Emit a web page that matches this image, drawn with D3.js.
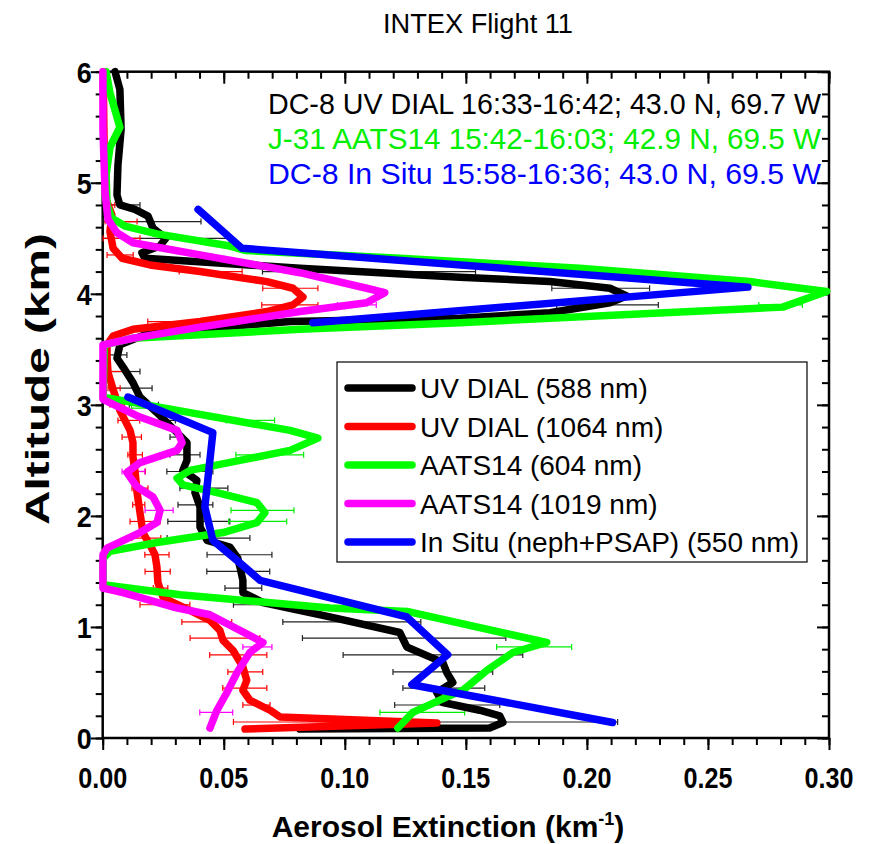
<!DOCTYPE html>
<html><head><meta charset="utf-8">
<script src="https://cdn.jsdelivr.net/npm/d3@7/dist/d3.min.js"></script>
<style>body{margin:0;background:#fff}svg{display:block}</style>
</head><body>
<svg id="chart" width="872" height="844"></svg>
<script>
// ---------- data (extinction km^-1 vs altitude km) ----------
const dial588Alt = [6.00,5.84,5.48,5.16,4.89,4.80,4.76,4.70,4.59,4.50,4.43,4.37,4.32,4.23,4.15,4.11,4.05,3.98,3.92,3.83,3.78,3.75,3.65,3.54,3.42,3.34,3.20,3.07,2.93,2.75,2.66,2.50,2.41,2.32,2.21,2.08,1.90,1.78,1.72,1.62,1.54,1.42,1.31,1.22,1.09,0.95,0.82,0.73,0.68,0.59,0.50,0.41,0.32,0.25,0.20,0.14,0.09,0.08];
const dial588Ext = [0.0051,0.0071,0.0076,0.0063,0.0059,0.0071,0.0133,0.0187,0.0208,0.0261,0.0236,0.0162,0.0174,0.0815,0.1475,0.1847,0.2095,0.2164,0.2095,0.1847,0.1475,0.0774,0.0195,0.0071,0.0059,0.0084,0.0125,0.0154,0.0224,0.0307,0.0348,0.0348,0.0331,0.0389,0.0381,0.0402,0.0402,0.0431,0.0525,0.0558,0.0567,0.0579,0.0579,0.0662,0.0938,0.1227,0.1256,0.1351,0.1405,0.1421,0.1446,0.1380,0.1405,0.1557,0.1640,0.1653,0.1598,0.0815];

const dial1064Alt = [6.00,5.30,4.85,4.71,4.56,4.41,4.32,4.26,4.20,4.11,4.05,3.97,3.90,3.84,3.75,3.68,3.62,3.54,3.43,3.29,3.14,2.95,2.77,2.66,2.53,2.39,2.21,2.03,1.85,1.74,1.65,1.54,1.40,1.27,1.22,1.15,1.06,0.97,0.88,0.79,0.64,0.52,0.43,0.34,0.25,0.19,0.135,0.08];
const dial1064Ext = [0.0002,0.0006,0.0014,0.0038,0.0030,0.0043,0.0080,0.0195,0.0402,0.0678,0.0786,0.0827,0.0786,0.0678,0.0402,0.0125,0.0043,0.0018,0.0018,0.0022,0.0043,0.0071,0.0113,0.0125,0.0125,0.0134,0.0142,0.0154,0.0166,0.0195,0.0216,0.0224,0.0228,0.0249,0.0290,0.0360,0.0443,0.0484,0.0497,0.0538,0.0579,0.0595,0.0579,0.0608,0.0691,0.0732,0.1380,0.0588];

const aats604Alt = [6.00,5.81,5.50,5.32,5.07,4.80,4.68,4.61,4.54,4.43,4.39,4.32,4.23,4.11,4.02,3.88,3.78,3.74,3.68,3.60,3.54,3.07,2.93,2.77,2.70,2.59,2.50,2.41,2.34,2.28,2.21,2.12,2.03,1.94,1.85,1.76,1.68,1.62,1.38,1.29,1.17,1.14,0.86,0.77,0.61,0.43,0.37,0.23,0.09];
const aats604Ext = [0.0014,0.0030,0.0071,0.0030,0.0014,0.0018,0.0038,0.0092,0.0224,0.0526,0.0588,0.1227,0.1970,0.2672,0.2990,0.2809,0.1847,0.1475,0.0815,0.0125,0.0006,0.0002,0.0361,0.0774,0.0889,0.0774,0.0567,0.0361,0.0307,0.0331,0.0472,0.0637,0.0670,0.0637,0.0497,0.0224,0.0030,0.0002,0.0002,0.0320,0.0939,0.1257,0.1834,0.1694,0.1587,0.1488,0.1422,0.1281,0.1219];

const aats1019Alt = [6.00,5.48,4.91,4.67,4.55,4.46,4.35,4.19,4.05,4.01,3.92,3.84,3.70,3.60,3.54,3.05,2.89,2.77,2.66,2.59,2.48,2.39,2.26,2.17,2.05,1.94,1.85,1.71,1.65,1.35,1.31,1.18,1.11,0.86,0.77,0.59,0.41,0.25,0.09];
const aats1019Ext = [0.0001,0.0001,0.0010,0.0022,0.0059,0.0125,0.0402,0.0815,0.1090,0.1165,0.1090,0.0815,0.0402,0.0125,0.0001,0.0001,0.0154,0.0307,0.0328,0.0307,0.0154,0.0100,0.0142,0.0208,0.0237,0.0224,0.0154,0.0018,0.0001,0.0001,0.0084,0.0290,0.0443,0.0662,0.0608,0.0555,0.0513,0.0472,0.0443];

// null marks a break in the in-situ profile
const inSituAlt = [4.76,4.41,4.06,3.74,null,3.07,2.75,2.08,1.78,1.63,1.42,1.09,0.75,0.48,0.14];
const inSituExt = [0.0394,0.0575,0.2665,0.0868,null,0.0104,0.0455,0.0422,0.0455,0.0538,0.0650,0.1256,0.1425,0.1277,0.2106];

// error bars: altitude, centre, half-width
const dial588ErrAlt = [4.80,4.65,4.50,4.20,4.05,3.90,3.45,3.30,3.15,3.00,2.86,2.71,2.55,2.40,2.25,2.10,1.95,1.80,1.65,1.50,1.35,1.20,1.045,0.90,0.748,0.595,0.45,0.297,0.144];
const dial588ErrCen = [0.0080,0.0200,0.0260,0.1100,0.2057,0.2085,0.0060,0.0092,0.0117,0.0170,0.0250,0.0298,0.0340,0.0360,0.0418,0.0383,0.0397,0.0437,0.0565,0.0560,0.0581,0.0660,0.1029,0.1245,0.1364,0.1405,0.1409,0.1423,0.1640];
const dial588ErrHalf = [0.0074,0.0206,0.0260,0.0440,0.0202,0.0210,0.0040,0.0062,0.0087,0.0060,0.0050,0.0020,0.0062,0.0095,0.0099,0.0072,0.0128,0.0171,0.0134,0.0130,0.0076,0.0120,0.0285,0.0420,0.0371,0.0206,0.0169,0.0217,0.0487];

const dial1064ErrAlt = [4.80,4.65,4.50,4.35,4.20,4.05,3.90,3.75,3.60,3.30,3.15,3.00,2.86,2.71,2.55,2.40,2.25,2.10,1.95,1.80,1.65,1.50,1.35,1.20,1.045,0.90,0.748,0.595,0.45,0.297,0.144];
const dial1064ErrCen = [0.0030,0.0076,0.0078,0.0072,0.0446,0.0775,0.0773,0.0454,0.0080,0.0049,0.0047,0.0060,0.0108,0.0120,0.0134,0.0136,0.0154,0.0149,0.0175,0.0180,0.0224,0.0227,0.0239,0.0257,0.0430,0.0505,0.0560,0.0589,0.0587,0.0635,0.0850];
const dial1064ErrHalf = [0.0020,0.0066,0.0076,0.0054,0.0130,0.0114,0.0116,0.0268,0.0040,0.0050,0.0025,0.0030,0.0045,0.0040,0.0030,0.0040,0.0033,0.0025,0.0062,0.0060,0.0050,0.0052,0.0030,0.0103,0.0103,0.0144,0.0118,0.0072,0.0091,0.0056,0.0310];

const aats604ErrAlt = [3.90,2.97,2.86,2.55,2.05,1.95,0.82,0.23];
const aats604ErrCen = [0.2800,0.0166,0.0610,0.0690,0.0660,0.0640,0.1782,0.1320];
const aats604ErrHalf = [0.0090,0.0047,0.0100,0.0140,0.0130,0.0120,0.0155,0.0175];

const aats1019ErrAlt = [3.90,2.40,2.05,0.82,0.23];
const aats1019ErrCen = [0.1050,0.0127,0.0233,0.0639,0.0469];
const aats1019ErrHalf = [0.0080,0.0047,0.0058,0.0060,0.0068];

const xTicks = [0, 0.05, 0.10, 0.15, 0.20, 0.25, 0.30];
const xTickLabels = ["0.00","0.05","0.10","0.15","0.20","0.25","0.30"];
const yTicks = [0,1,2,3,4,5,6];
const yTickLabels = ["0","1","2","3","4","5","6"];

const legendLabels = ["UV DIAL (588 nm)","UV DIAL (1064 nm)","AATS14 (604 nm)","AATS14 (1019 nm)","In Situ (neph+PSAP) (550 nm)"];
const seriesColors = ["#000000","#ff0000","#00ff00","#ff00ff","#0000ff"];
const noteLines = ["DC-8 UV DIAL 16:33-16:42; 43.0 N, 69.7 W","J-31 AATS14 15:42-16:03; 42.9 N, 69.5 W","DC-8 In Situ 15:58-16:36; 43.0 N, 69.5 W"];
const noteColors = ["#000000","#00ee00","#0000ff"];

// ---------- drawing ----------
const svg = d3.select("#chart");
const FONT = "'Liberation Sans', Arial, sans-serif";
const L = 102.7, R = 829, T = 71.7, B = 738;
const x = d3.scaleLinear().domain([0,0.30]).range([L,R]);
const y = d3.scaleLinear().domain([0,6]).range([B,T]);

// axes
const minorX = d3.range(0,0.3001,0.01);
const minorY = d3.range(0,6.001,0.2);
function styleAxis(g){ g.select(".domain").remove(); g.selectAll("line").attr("stroke","#000").attr("stroke-width",2); }
svg.append("g").attr("transform",`translate(0,${B})`).call(d3.axisBottom(x).tickValues(minorX).tickSize(7).tickFormat("")).call(styleAxis);
svg.append("g").attr("transform",`translate(0,${B})`).call(d3.axisBottom(x).tickValues(xTicks).tickSize(12).tickFormat("")).call(styleAxis);
svg.append("g").attr("transform",`translate(0,${T})`).call(d3.axisBottom(x).tickValues(minorX).tickSize(7).tickFormat("")).call(styleAxis);
svg.append("g").attr("transform",`translate(0,${T})`).call(d3.axisBottom(x).tickValues(xTicks).tickSize(12).tickFormat("")).call(styleAxis);
svg.append("g").attr("transform",`translate(${L},0)`).call(d3.axisLeft(y).tickValues(minorY).tickSize(7).tickFormat("")).call(styleAxis);
svg.append("g").attr("transform",`translate(${L},0)`).call(d3.axisLeft(y).tickValues(yTicks).tickSize(12).tickFormat("")).call(styleAxis);
svg.append("g").attr("transform",`translate(${R},0)`).call(d3.axisLeft(y).tickValues(minorY).tickSize(7).tickFormat("")).call(styleAxis);
svg.append("g").attr("transform",`translate(${R},0)`).call(d3.axisLeft(y).tickValues(yTicks).tickSize(12).tickFormat("")).call(styleAxis);
svg.append("rect").attr("x",L).attr("y",T).attr("width",R-L).attr("height",B-T)
  .attr("fill","none").attr("stroke","#000").attr("stroke-width",2.5);

// tick labels
svg.append("g").selectAll("text").data(xTicks).join("text")
  .attr("x",d=>x(d)).attr("y",B+50).attr("text-anchor","middle")
  .attr("font-family",FONT).attr("font-weight","bold").attr("font-size",30)
  .attr("textLength",49).attr("lengthAdjust","spacingAndGlyphs")
  .text((d,i)=>xTickLabels[i]);
svg.append("g").selectAll("text").data(yTicks).join("text")
  .attr("x",L-11).attr("y",d=>y(d)+11).attr("text-anchor","end")
  .attr("font-family",FONT).attr("font-weight","bold").attr("font-size",30)
  .attr("textLength",15).attr("lengthAdjust","spacingAndGlyphs")
  .text((d,i)=>yTickLabels[i]);

// axis titles
const xt = svg.append("text").attr("x",448).attr("y",837).attr("text-anchor","middle")
  .attr("font-family",FONT).attr("font-weight","bold").attr("font-size",30);
xt.append("tspan").text("Aerosol Extinction (km");
xt.append("tspan").attr("dy",-12).attr("font-size",18).text("-1");
xt.append("tspan").attr("dy",12).text(")");
svg.append("text").attr("transform","translate(49,379) rotate(-90)").attr("text-anchor","middle")
  .attr("font-family",FONT).attr("font-weight","bold").attr("font-size",34)
  .attr("textLength",292).attr("lengthAdjust","spacingAndGlyphs").text("Altitude (km)");

// title
svg.append("text").attr("x",478).attr("y",33).attr("text-anchor","middle")
  .attr("font-family",FONT).attr("font-size",27)
  .attr("textLength",190).attr("lengthAdjust","spacingAndGlyphs").text("INTEX Flight 11");

// error bars
const errSets = [
  [dial588ErrAlt,dial588ErrCen,dial588ErrHalf,"#222"],
  [dial1064ErrAlt,dial1064ErrCen,dial1064ErrHalf,"#ff0000"],
  [aats604ErrAlt,aats604ErrCen,aats604ErrHalf,"#00ee00"],
  [aats1019ErrAlt,aats1019ErrCen,aats1019ErrHalf,"#ff00ff"]
];
const eg = svg.append("g");
errSets.forEach(([alt,cen,half,col])=>{
  alt.forEach((a,i)=>{
    const x0 = Math.max(L, x(cen[i]-half[i])), x1 = x(cen[i]+half[i]), yy = y(a);
    eg.append("line").attr("x1",x0).attr("x2",x1).attr("y1",yy).attr("y2",yy).attr("stroke",col).attr("stroke-width",1.2);
    [x0,x1].forEach(xx=>eg.append("line").attr("x1",xx).attr("x2",xx).attr("y1",yy-3).attr("y2",yy+3).attr("stroke",col).attr("stroke-width",1.2));
  });
});

// profiles
const series = [
  [dial588Ext,dial588Alt],
  [dial1064Ext,dial1064Alt],
  [aats604Ext,aats604Alt],
  [aats1019Ext,aats1019Alt],
  [inSituExt,inSituAlt]
];
const line = d3.line().defined(d=>d[0]!==null && d[1]!==null).x(d=>x(d[0])).y(d=>y(d[1]));
series.forEach(([ext,alt],k)=>{
  const pts = ext.map((e,i)=>[e,alt[i]]);
  svg.append("path").attr("d",line(pts)).attr("fill","none").attr("stroke",seriesColors[k])
    .attr("stroke-width",7.5).attr("stroke-linejoin","round").attr("stroke-linecap","round");
});

// annotation lines
noteLines.forEach((t,i)=>{
  svg.append("text").attr("x",821).attr("y",114+35*i).attr("text-anchor","end")
    .attr("font-family",FONT).attr("font-size",29).attr("fill",noteColors[i])
    .attr("textLength",553).attr("lengthAdjust","spacingAndGlyphs").text(t);
});

// legend
const lg = svg.append("g");
lg.append("rect").attr("x",337).attr("y",362).attr("width",470).attr("height",200)
  .attr("fill","#fff").attr("stroke","#000").attr("stroke-width",1.2);
legendLabels.forEach((t,i)=>{
  const yy = 388 + 38.5*i;
  lg.append("line").attr("x1",348).attr("x2",412).attr("y1",yy).attr("y2",yy)
    .attr("stroke",seriesColors[i]).attr("stroke-width",7.5).attr("stroke-linecap","round");
  lg.append("text").attr("x",420).attr("y",yy+10).attr("font-family",FONT).attr("font-size",28).text(t);
});
</script></body></html>
